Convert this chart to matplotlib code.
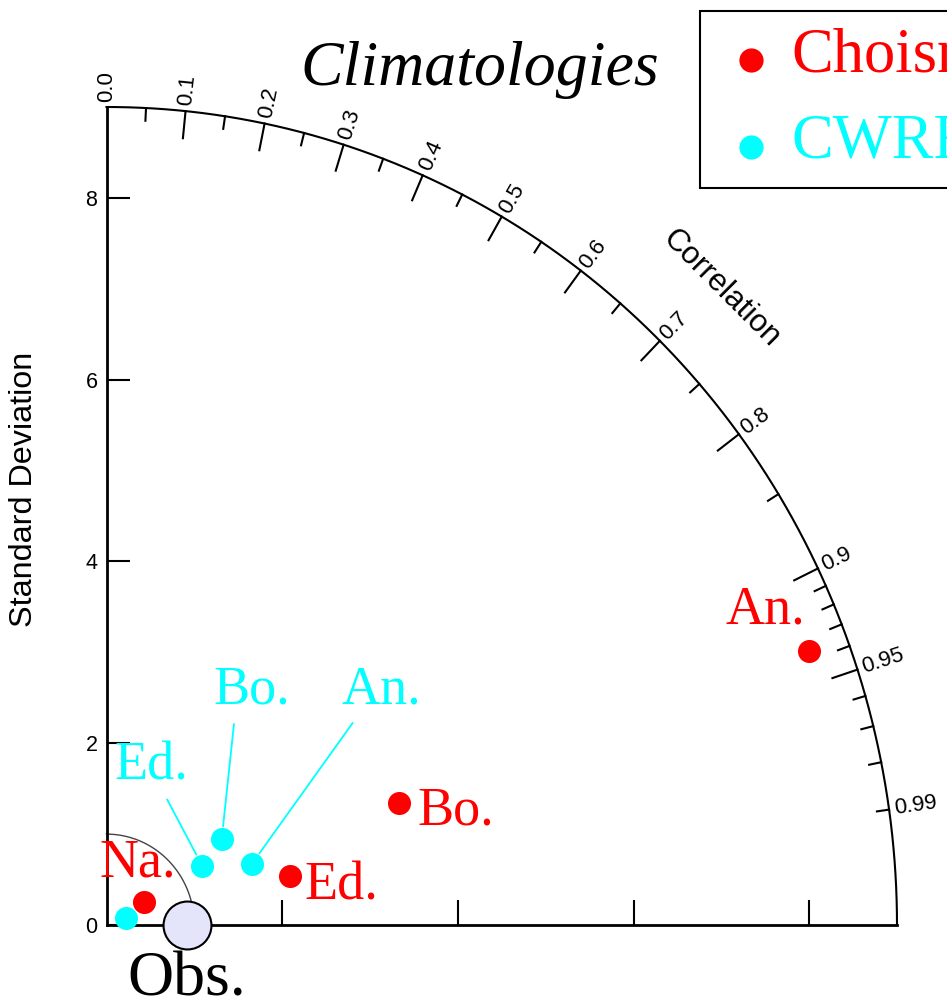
import numpy as np
import matplotlib
matplotlib.use("Agg")
import matplotlib.pyplot as plt

# statistics (std dev, correlation with obs)
names = ["Na.", "Ed.", "Bo.", "An."]
choisnel_std = [0.50, 2.16, 3.59, 8.55]
choisnel_corr = [0.858, 0.969, 0.927, 0.936]
cwrf_std = [0.24, 1.27, 1.62, 1.79]
cwrf_corr = [0.941, 0.858, 0.810, 0.926]
obs_std = 0.92

series_names = ["Choisnel", "CWRF"]
series_colors = ["red", "cyan"]

std_ticks = [0, 2, 4, 6, 8]
corr_major = [0.1, 0.2, 0.3, 0.4, 0.5, 0.6, 0.7, 0.8, 0.9, 0.95]
corr_minor = [0.05, 0.15, 0.25, 0.35, 0.45, 0.55, 0.65, 0.75, 0.85,
              0.91, 0.92, 0.93, 0.94, 0.96, 0.97, 0.98, 0.99]
corr_labels = ["0.0", "0.1", "0.2", "0.3", "0.4", "0.5", "0.6", "0.7",
               "0.8", "0.9", "0.95", "0.99"]
rmax = 9.0

# label offsets in pixels (text anchor relative to the point)
red_offsets = [(-6, 25, "center"), (14, -23, "left"), (19, -22, "left"), (-44, 28, "center")]
cyan_offsets = [None, (-51, 86, (0.66, 0)), (30, 135, (0.28, 0)), (129, 160, (0.21, 0))]

serif = "Liberation Serif"
sans = "Liberation Sans"

fig = plt.figure(figsize=(9.47, 9.98), dpi=100)
ax = fig.add_axes([106.5 / 947, 73 / 998, 790.5 / 947, 818 / 998])
ax.set_xlim(0, rmax)
ax.set_ylim(0, rmax)
for s in ["top", "right"]:
    ax.spines[s].set_visible(False)
for s in ["left", "bottom"]:
    ax.spines[s].set_linewidth(2)
ax.set_yticks(std_ticks)
ax.set_yticklabels([str(t) for t in std_ticks], fontfamily=sans, fontsize=15.5)
ax.set_xticks(std_ticks[1:])
ax.set_xticklabels([])
ax.tick_params(axis="y", direction="in", length=16.5, width=1.5, pad=6.5)
ax.tick_params(axis="x", direction="in", length=18, width=1.5)

# outer correlation arc
th = np.linspace(0, np.pi / 2, 400)
ax.plot(rmax * np.cos(th), rmax * np.sin(th), color="black", lw=1.5, clip_on=False)
# reference std arc
ax.plot(1.0 * np.cos(th), 1.0 * np.sin(th), color="#444444", lw=1.0, clip_on=False)

for c in corr_major:
    t = np.arccos(c)
    ax.plot([(rmax - 0.3) * np.cos(t), rmax * np.cos(t)],
            [(rmax - 0.3) * np.sin(t), rmax * np.sin(t)], color="black", lw=1.5)
for c in corr_minor:
    t = np.arccos(c)
    ax.plot([(rmax - 0.14) * np.cos(t), rmax * np.cos(t)],
            [(rmax - 0.14) * np.sin(t), rmax * np.sin(t)], color="black", lw=1.5)
for lab in corr_labels:
    t = np.arccos(float(lab))
    ax.text((rmax + 0.06) * np.cos(t), (rmax + 0.06) * np.sin(t), lab,
            rotation=np.degrees(t), rotation_mode="anchor", ha="left", va="center",
            fontfamily=sans, fontsize=16, clip_on=False)

ax.text(9.9 * np.cos(np.pi / 4), 9.9 * np.sin(np.pi / 4), "Correlation",
        rotation=-45, rotation_mode="anchor", ha="center", va="center",
        fontfamily=sans, fontsize=22.5)
ax.text(-0.94, 4.79, "Standard Deviation", rotation=90, ha="center", va="center",
        fontfamily=sans, fontsize=23.3)

# observation
ax.plot(obs_std, 0.0, "o", ms=34.5, mfc="#e4e4fa", mec="black", mew=1.5,
        clip_on=False, zorder=5)
ax.annotate("Obs.", (obs_std, 0.0), xytext=(-1, -70), textcoords="offset pixels",
            ha="center", va="baseline", fontfamily=serif, fontsize=46, annotation_clip=False)

handles = []
for k, (stds, corrs) in enumerate([(choisnel_std, choisnel_corr), (cwrf_std, cwrf_corr)]):
    stds = np.array(stds)
    corrs = np.array(corrs)
    x = stds * corrs
    y = stds * np.sin(np.arccos(corrs))
    h = ax.scatter(x, y, s=16.6 ** 2, color=series_colors[k], zorder=6,
                   clip_on=False, linewidths=0, label=series_names[k])
    handles.append(h)
    offs = red_offsets if k == 0 else cyan_offsets
    for i, name in enumerate(names):
        if offs[i] is None:
            continue
        dx, dy, al = offs[i]
        if k == 0:
            ax.annotate(name, (x[i], y[i]), xytext=(dx, dy), textcoords="offset pixels",
                        ha=al, va="baseline", color=series_colors[k],
                        fontfamily=serif, fontsize=39, zorder=7)
        else:
            ax.annotate(name, (x[i], y[i]), xytext=(dx, dy), textcoords="offset pixels",
                        ha="center", va="baseline", color=series_colors[k],
                        fontfamily=serif, fontsize=39, zorder=7,
                        arrowprops=dict(arrowstyle="-", color=series_colors[k], lw=1.3,
                                        relpos=al, shrinkA=4, shrinkB=9))

fig.text(480 / 947, 1 - 85 / 998, "Climatologies", ha="center", va="baseline",
         fontfamily=serif, style="italic", fontsize=46)

leg = ax.legend(handles=handles, labels=series_names, loc="upper left",
                bbox_to_anchor=(700 / 947, 1 - 11 / 998), bbox_transform=fig.transFigure,
                borderaxespad=0, prop={"family": serif, "size": 45},
                labelcolor=series_colors, fancybox=False, framealpha=1,
                edgecolor="black", borderpad=0.26, labelspacing=0.45,
                handlelength=1.11, handletextpad=0.1, markerscale=1.05)
leg.get_frame().set_linewidth(1.5)
for lh in leg.legend_handles:
    lh.set_offsets(np.asarray(lh.get_offsets()) + np.array([0, -4.0]))

fig.savefig("out.png", dpi=100)
